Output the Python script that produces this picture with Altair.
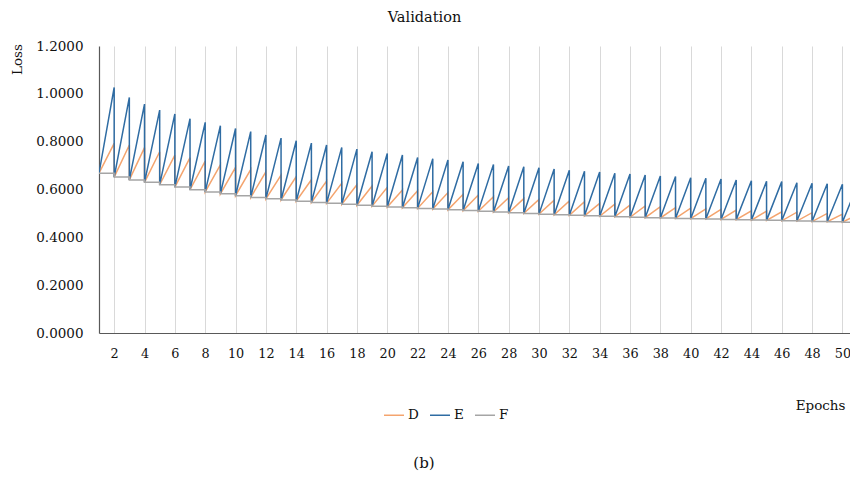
import altair as alt
import pandas as pd

FONT = "DejaVu Serif"

series_names = ["D", "E", "F"]
series_colors = ["#F4A46E", "#2F6CA3", "#A5A5A5"]

# F value held through each epoch (epochs 1..51); D and E restart from it
f_vals = [
    0.668, 0.652, 0.640, 0.630, 0.620, 0.610, 0.599, 0.590, 0.582, 0.574,
    0.567, 0.561, 0.556, 0.551, 0.546, 0.542, 0.538, 0.534, 0.530, 0.527,
    0.524, 0.521, 0.518, 0.515, 0.512, 0.509, 0.506, 0.503, 0.500, 0.497,
    0.494, 0.492, 0.490, 0.488, 0.486, 0.484, 0.482, 0.481, 0.479, 0.478,
    0.477, 0.475, 0.474, 0.472, 0.471, 0.469, 0.468, 0.466, 0.465, 0.463,
    0.461,
]

# end-of-epoch peaks for epochs 2..51
e_peaks = [
    1.027, 0.985, 0.957, 0.932, 0.916, 0.896, 0.881, 0.867, 0.855, 0.842,
    0.828, 0.815, 0.804, 0.794, 0.786, 0.776, 0.769, 0.758, 0.751, 0.744,
    0.734, 0.729, 0.723, 0.716, 0.709, 0.705, 0.698, 0.695, 0.691, 0.686,
    0.680, 0.676, 0.673, 0.668, 0.665, 0.661, 0.656, 0.654, 0.649, 0.647,
    0.644, 0.640, 0.637, 0.634, 0.633, 0.628, 0.626, 0.624, 0.622, 0.620,
]
d_peaks = [
    0.793, 0.786, 0.775, 0.758, 0.744, 0.733, 0.719, 0.703, 0.693, 0.683,
    0.674, 0.660, 0.654, 0.641, 0.635, 0.626, 0.620, 0.615, 0.609, 0.598,
    0.595, 0.591, 0.587, 0.580, 0.577, 0.570, 0.566, 0.562, 0.558, 0.555,
    0.552, 0.549, 0.542, 0.539, 0.535, 0.531, 0.528, 0.524, 0.522, 0.519,
    0.517, 0.514, 0.511, 0.510, 0.507, 0.505, 0.503, 0.500, 0.497, 0.495,
]

x_ticks = list(range(2, 51, 2))
y_ticks = [0.0, 0.2, 0.4, 0.6, 0.8, 1.0, 1.2]

rows = []


def add_sawtooth(name, peaks):
    # each epoch rises from the F level to its peak, then drops back
    i = 0
    for k in range(1, 51):
        rows.append({"series": name, "epoch": k, "loss": f_vals[k - 1], "idx": i})
        i += 1
        rows.append({"series": name, "epoch": k + 1, "loss": peaks[k - 1], "idx": i})
        i += 1


add_sawtooth("D", d_peaks)
add_sawtooth("E", e_peaks)

# F: held flat through each epoch, stepping down at the boundary
i = 0
for k in range(1, 52):
    rows.append({"series": "F", "epoch": k, "loss": f_vals[k - 1], "idx": i})
    i += 1
    rows.append({"series": "F", "epoch": k + 1, "loss": f_vals[k - 1], "idx": i})
    i += 1

df = pd.DataFrame(rows)

lines = alt.Chart(df).mark_line(clip=True, strokeWidth=1.5).encode(
    x=alt.X(
        "epoch:Q",
        scale=alt.Scale(domain=[1, 50.5], nice=False, zero=False),
        axis=alt.Axis(
            values=x_ticks,
            format="d",
            title="Epochs",
            titleAnchor="end",
            titleAlign="right",
            titleBaseline="middle",
            titleX=746,
            titleY=72,
            grid=True,
            gridColor="#D9D9D9",
            gridWidth=1,
            ticks=False,
            tickSize=0,
            labelPadding=14,
            labelFontSize=12.8,
            labelFlush=False,
            domainColor="#595959",
            domainWidth=1.2,
        ),
    ),
    y=alt.Y(
        "loss:Q",
        scale=alt.Scale(domain=[0, 1.2], nice=False),
        axis=alt.Axis(
            values=y_ticks,
            format=".4f",
            title="Loss",
            titleAngle=270,
            titleAlign="center",
            titleBaseline="middle",
            titleX=-82,
            titleY=13,
            grid=False,
            ticks=False,
            tickSize=0,
            labelPadding=16,
            domainColor="#595959",
            domainWidth=1.2,
        ),
    ),
    color=alt.Color(
        "series:N",
        scale=alt.Scale(domain=series_names, range=series_colors),
        legend=alt.Legend(
            title=None,
            orient="none",
            direction="horizontal",
            legendX=284,
            legendY=358,
            symbolType="stroke",
            symbolSize=400,
            symbolStrokeWidth=1.5,
            labelOffset=3,
            columnPadding=8,
        ),
    ),
    detail="series:N",
    order=alt.Order("idx:Q"),
)

caption = alt.Chart(pd.DataFrame({"t": ["(b)"]})).mark_text(
    font=FONT, fontSize=15, color="#111111", baseline="middle", align="center"
).encode(x=alt.value(325), y=alt.value(417), text="t:N")

chart = (
    alt.layer(lines, caption)
    .properties(
        width=751,
        height=287,
        title=alt.TitleParams(
            "Validation",
            anchor="middle",
            dx=-50,
            offset=14,
            fontSize=14.5,
            font=FONT,
            fontWeight="normal",
            color="#111111",
        ),
        autosize=alt.AutoSizeParams(type="none"),
        padding={"left": 99, "top": 46, "right": 0, "bottom": 146},
    )
    .configure(font=FONT)
    .configure_view(stroke=None)
    .configure_axis(
        labelFont=FONT,
        labelFontSize=13.5,
        labelColor="#111111",
        titleFont=FONT,
        titleFontSize=13.5,
        titleFontWeight="normal",
        titleColor="#111111",
    )
    .configure_legend(
        labelFont=FONT,
        labelFontSize=13.5,
        labelColor="#111111",
    )
)

chart.save("out.html", embed_options={"renderer": "svg", "actions": False})
